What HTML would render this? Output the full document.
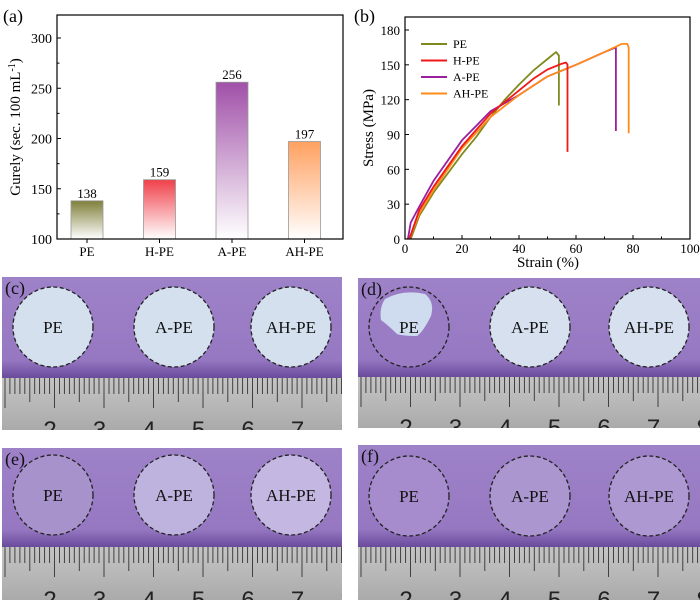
<!DOCTYPE html>
<html><head><meta charset="utf-8">
<style>
html,body{margin:0;padding:0;background:#fff;}
svg{display:block;font-family:"Liberation Serif",serif;}
</style></head>
<body>
<svg id="fig" width="700" height="606" viewBox="0 0 700 606">
<defs>
<linearGradient id="gPE" x1="0" y1="0" x2="0" y2="1"><stop offset="0" stop-color="#7f7f3a"/><stop offset="1" stop-color="#ffffff"/></linearGradient>
<linearGradient id="gHPE" x1="0" y1="0" x2="0" y2="1"><stop offset="0" stop-color="#f0404a"/><stop offset="1" stop-color="#ffffff"/></linearGradient>
<linearGradient id="gAPE" x1="0" y1="0" x2="0" y2="1"><stop offset="0" stop-color="#a050a8"/><stop offset="1" stop-color="#ffffff"/></linearGradient>
<linearGradient id="gAHPE" x1="0" y1="0" x2="0" y2="1"><stop offset="0" stop-color="#ffa060"/><stop offset="1" stop-color="#ffffff"/></linearGradient>
<linearGradient id="purp" x1="0" y1="0" x2="0" y2="1"><stop offset="0" stop-color="#9e82c8"/><stop offset="0.82" stop-color="#9678c2"/><stop offset="1" stop-color="#6a4a9c"/></linearGradient>
<linearGradient id="ruler" x1="0" y1="0" x2="0" y2="1"><stop offset="0" stop-color="#c4c4c4"/><stop offset="0.5" stop-color="#b8b8b8"/><stop offset="1" stop-color="#aaaaaa"/></linearGradient>
</defs>
<g id="panelA"></g>
<g id="panelB"></g>
<g id="photos"></g>
</svg>
<script>
// ---- Panel (a) data ----
const barCategories = ["PE","H-PE","A-PE","AH-PE"];
const barValues = [138,159,256,197];
const barTicks = [100,150,200,250,300];
const barFills = ["url(#gPE)","url(#gHPE)","url(#gAPE)","url(#gAHPE)"];

// ---- Panel (b) data ----
const strainPE  = [2,5,10,20,25,30,35,40,45,50,53,54,54];
const stressPE  = [0,20,40,73,88,105,120,133,145,155,161,158,115];
const strainHPE = [1.5,5,10,20,30,35,40,45,50,55,56.5,57,57];
const stressHPE = [0,25,45,80,108,118,128,138,146,151,152,150,75];
const strainAPE = [1,2,5,10,20,30,40,50,60,70,74,74];
const stressAPE = [0,14,28,50,85,110,124,140,150,161,165,93];
const strainAHPE= [1.5,5,10,20,30,40,50,60,70,76,78,78.5,78.5];
const stressAHPE= [0,22,42,78,105,124,140,150,161,168,168,165,91];
const seriesNames = ["PE","H-PE","A-PE","AH-PE"];
const xTicksB = [0,20,40,60,80,100];
const yTicksB = [0,30,60,90,120,150,180];

const NS="http://www.w3.org/2000/svg";
function mk(tag,attrs,parent,text){const e=document.createElementNS(NS,tag);for(const k in attrs)e.setAttribute(k,attrs[k]);if(text!==undefined)e.textContent=text;parent.appendChild(e);return e;}

// ===== Panel A =====
(function(){
const g=document.getElementById('panelA');
const L=57,R=343,T=15,B=239;
const y=v=>B-(v-100)*(B-38)/200;
const x=i=>87+72.5*i;
let t=mk('text',{x:3,y:22,'font-size':18},g,'(a)');

barValues.forEach((v,i)=>{
  const r=mk('rect',{x:x(i)-16,y:y(v),width:32,height:B-y(v),fill:barFills[i],stroke:'#999','stroke-width':0.8},g);
  
  
  const lb=mk('text',{x:x(i),y:y(v)-3,'font-size':13,'text-anchor':'middle'},g,String(v));
  
  
  const c=mk('text',{x:x(i),y:256,'font-size':13,'text-anchor':'middle'},g,barCategories[i]);
  
  
  mk('line',{x1:x(i),x2:x(i),y1:B,y2:B+4,stroke:'#000'},g);
});
const fr=mk('rect',{x:L,y:T,width:R-L,height:B-T,fill:'none',stroke:'#000','stroke-width':1.2},g);

barTicks.forEach(v=>{
  mk('line',{x1:L,x2:L+4,y1:y(v),y2:y(v),stroke:'#000'},g);
  const tl=mk('text',{x:L-5,y:y(v)+5,'font-size':14,'text-anchor':'end'},g,String(v));
  
  
});
for(let v=125;v<300;v+=50){mk('line',{x1:L,x2:L+2.5,y1:y(v),y2:y(v),stroke:'#000'},g);}
const yt=mk('text',{x:0,y:0,'font-size':15,'text-anchor':'middle',transform:'translate(20,127) rotate(-90)'},g);

yt.innerHTML='Gurely (sec. 100 mL<tspan dy="-5" font-size="10">-1</tspan><tspan dy="5">)</tspan>';
})();

// ===== Panel B =====
(function(){
const g=document.getElementById('panelB');
const L=405,R=690,T=17,B=239;
const x=v=>L+v*(R-L)/100;
const y=v=>B-v*(B-30)/180;
let t=mk('text',{x:354,y:22,'font-size':18},g,'(b)');

const xs=[strainPE,strainHPE,strainAPE,strainAHPE], ys=[stressPE,stressHPE,stressAPE,stressAHPE];
const cols=['#7f8a1e','#f01818','#9a20a0','#ff8c1a'];
[0,2,3,1].forEach(k=>{
  const d=xs[k].map((v,i)=>(i?'L':'M')+x(v).toFixed(1)+','+y(ys[k][i]).toFixed(1)).join(' ');
  const p=mk('path',{d:d,fill:'none',stroke:cols[k],'stroke-width':1.8,'stroke-linejoin':'round'},g);
  
  
});
const fr=mk('rect',{x:L,y:T,width:R-L,height:B-T,fill:'none',stroke:'#000','stroke-width':1.2},g);

xTicksB.forEach(v=>{
  mk('line',{x1:x(v),x2:x(v),y1:B,y2:B-4,stroke:'#000'},g);
  const tl=mk('text',{x:x(v),y:253,'font-size':13,'text-anchor':'middle'},g,String(v));
  
  
});
for(let v=10;v<100;v+=20)mk('line',{x1:x(v),x2:x(v),y1:B,y2:B-2.5,stroke:'#000'},g);
yTicksB.forEach(v=>{
  mk('line',{x1:L,x2:L+4,y1:y(v),y2:y(v),stroke:'#000'},g);
  const tl=mk('text',{x:L-5,y:y(v)+5,'font-size':13,'text-anchor':'end'},g,String(v));
  
  
});
const yt=mk('text',{x:0,y:0,'font-size':15,'text-anchor':'middle',transform:'translate(373,128) rotate(-90)'},g,'Stress (MPa)');

const xt=mk('text',{x:548,y:267,'font-size':15,'text-anchor':'middle'},g,'Strain (%)');

seriesNames.forEach((n,i)=>{
  const ly=48+16.5*i;
  const le=mk('g',{},g);
  
  
  mk('line',{x1:421,x2:447,y1:ly-4,y2:ly-4,stroke:cols[i],'stroke-width':2},le);
  mk('text',{x:453,y:ly,'font-size':12},le,n);
});
})();

// ===== Photos =====
(function(){
const g=document.getElementById('photos');
const defs=document.querySelector('defs');
const panels=[
 {id:'c',x:2,y:277,w:340,h:153,rulerY:378,cx:[53,174,291],cy:327,fills:['#d4e0ee','#d4e0ee','#d4e0ee']},
 {id:'d',x:358,y:278,w:342,h:150,rulerY:377,cx:[409,530,649],cy:327,fills:['#9a7cc4','#d6e0ee','#d6e0ee']},
 {id:'e',x:2,y:448,w:340,h:152,rulerY:547,cx:[53,174,291],cy:495,fills:['#a892cc','#beb2de','#c4b8e2']},
 {id:'f',x:358,y:445,w:342,h:155,rulerY:547,cx:[409,530,649],cy:496,fills:['#a68ccc','#ac96d0','#ad98d2']}
];
const labels=['PE','A-PE','AH-PE'];
panels.forEach(p=>{
  const cp=mk('clipPath',{id:'clip'+p.id},defs);
  mk('rect',{x:p.x,y:p.y,width:p.w,height:p.h},cp);
  const pg=mk('g',{'clip-path':'url(#clip'+p.id+')'},g);
  
  
  mk('rect',{x:p.x,y:p.y,width:p.w,height:p.rulerY-p.y,fill:'url(#purp)'},pg);
  mk('rect',{x:p.x,y:p.rulerY,width:p.w,height:p.y+p.h-p.rulerY,fill:'url(#ruler)'},pg);
  let d='';
  for(let i=0;i*4.95<p.w;i++){
    const tx=p.x+3+i*4.95;
    const len=(i%10===0)?30:(i%5===0?24:16);
    d+='M'+tx.toFixed(1)+','+p.rulerY+'v'+len;
  }
  mk('path',{d:d,stroke:'#333','stroke-width':0.9},pg);
  for(let k=0;k<7;k++){
    const nx=p.x+48+k*49.5;
    if(nx>p.x+p.w+6)break;
    mk('text',{x:nx,y:p.y+p.h+8,'font-size':24,'font-family':'Liberation Sans, sans-serif','text-anchor':'middle',fill:'#222'},pg,String(k+2));
  }
  mk('text',{x:p.x+3,y:p.y+17,'font-size':18,fill:'#111'},pg,'('+p.id+')');
  p.cx.forEach((cx,i)=>{
    const c=mk('circle',{cx:cx,cy:p.cy,r:40,fill:p.fills[i],stroke:'#222','stroke-width':1.3,'stroke-dasharray':'4,2.5'},pg);
    
    
    if(!(p.id==='d'&&i===0))mk('text',{x:cx,y:p.cy+6,'font-size':17,'text-anchor':'middle',fill:'#111'},pg,labels[i]);
  });
  if(p.id==='d'){mk('path',{d:'M385,299 q18,-10 40,-5 q10,8 6,22 q-8,16 -14,20 q-14,0 -20,-2 q-8,-8 -16,-14 q-2,-12 4,-21z',fill:'#cfdbee'},pg);
    mk('text',{x:409,y:333,'font-size':17,'text-anchor':'middle',fill:'#111'},pg,'PE');}
});
})();
</script>
</body></html>
